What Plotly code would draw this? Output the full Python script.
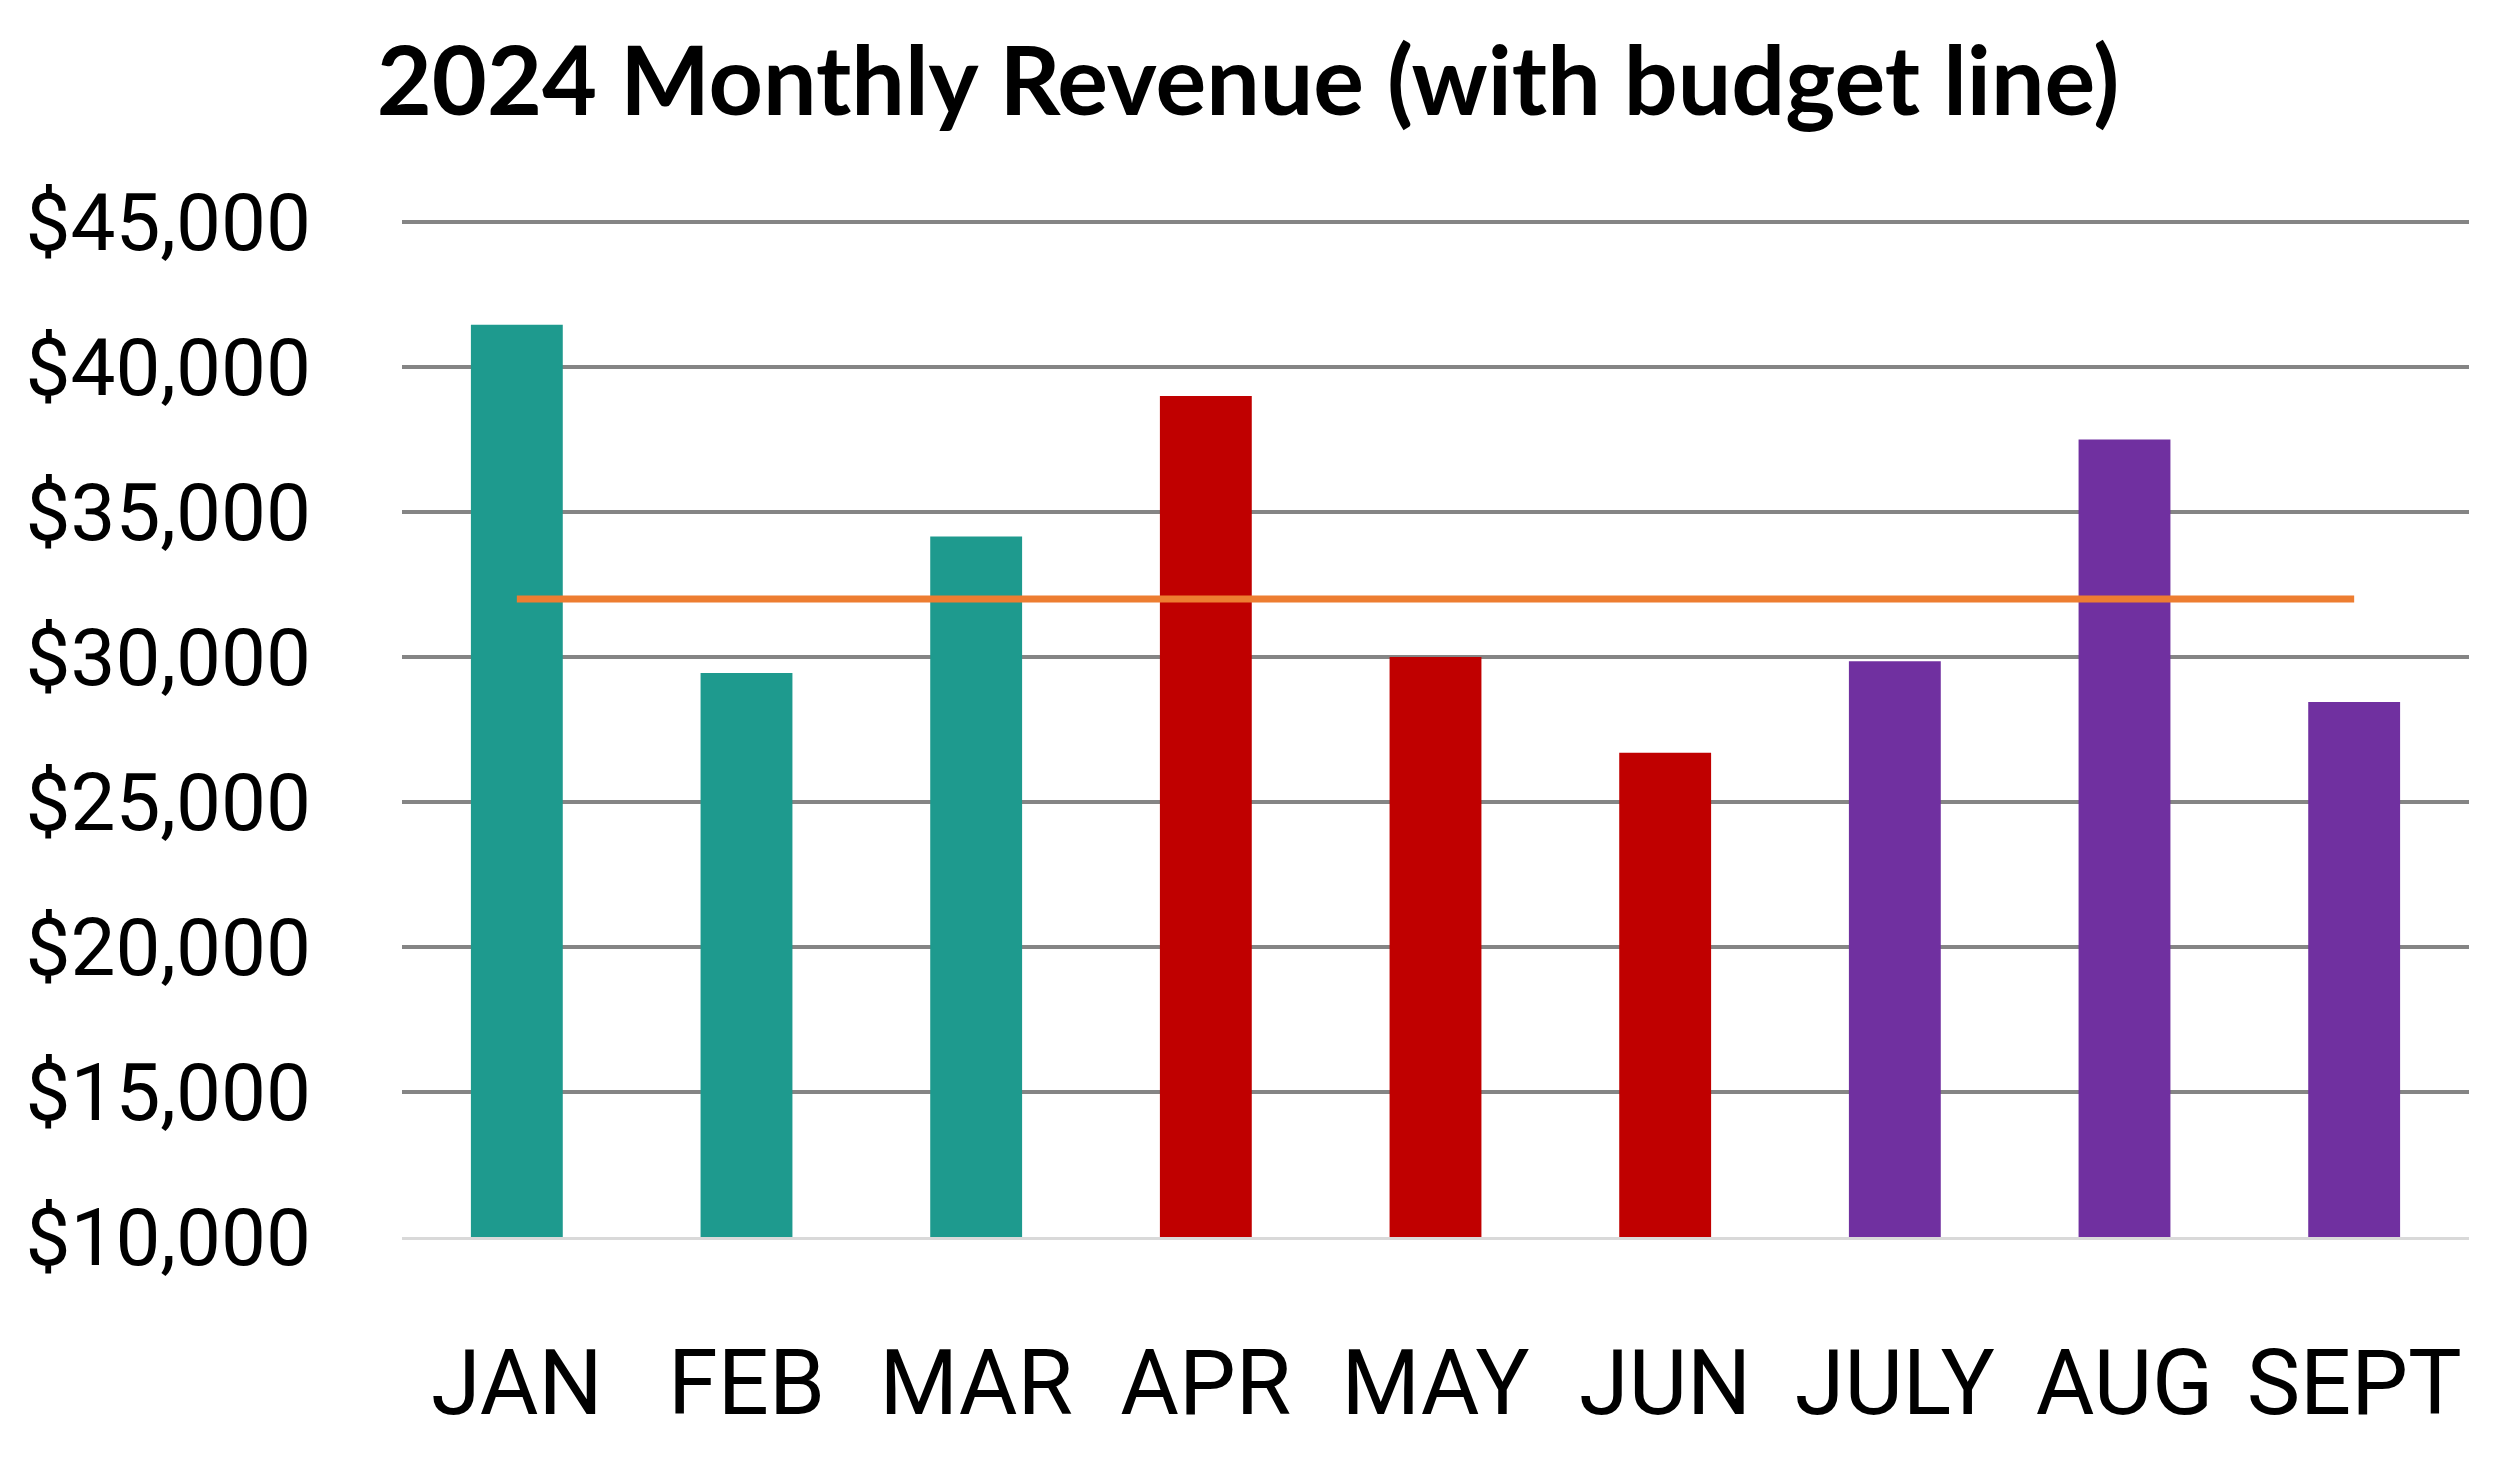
import plotly.graph_objects as go

# monthly revenue 2024
months = ["JAN", "FEB", "MAR", "APR", "MAY", "JUN", "JULY", "AUG", "SEPT"]
revenue = [41450, 29450, 34150, 39000, 30000, 26700, 29850, 37500, 28450]
budget = [32000] * len(months)

# quarter colours
bar_colors = ["#1E9A8E"] * 3 + ["#C00000"] * 3 + ["#7030A0"] * 3

y_ticks = [10000, 15000, 20000, 25000, 30000, 35000, 40000, 45000]
y_tick_text = ["$10,000", "$15,000", "$20,000", "$25,000", "$30,000", "$35,000", "$40,000", "$45,000"]

fig = go.Figure()

fig.add_trace(go.Bar(x=months, y=revenue, marker=dict(color=bar_colors, line=dict(width=0)),
                     name="Revenue"))
fig.add_trace(go.Scatter(x=months, y=budget, mode="lines",
                         line=dict(color="#ED7D31", width=7), name="Budget"))

# margins allow for the 8px page margin around the plot div
fig.update_layout(
    width=2500, height=1461,
    paper_bgcolor="white", plot_bgcolor="white",
    showlegend=False,
    bargap=0.6,
    margin=dict(l=394, r=39, t=211, b=232),
    title=dict(text="<b>2024 Monthly Revenue (with budget line)</b>",
               x=0.5 - 10 / 2500, xref="container", xanchor="center",
               y=1 - 74 / 1461, yref="container", yanchor="middle",
               font=dict(family="Lato", size=95, color="black")),
)

fig.update_xaxes(
    showgrid=False, showline=True, linecolor="#D9D9D9", linewidth=3,
    ticks="", ticklabelstandoff=66, automargin=False,
    tickfont=dict(family="Roboto", size=90, color="black"),
)

# range top a hair above 45k so its gridline is drawn
fig.update_yaxes(
    range=[10000, 45100],
    tickvals=y_ticks, ticktext=y_tick_text,
    showgrid=True, gridcolor="#858585", gridwidth=4,
    zeroline=False, showline=False, ticks="",
    ticklabelstandoff=90, automargin=False,
    tickfont=dict(family="Roboto", size=80, color="black"),
)

fig.write_html("out.html")
